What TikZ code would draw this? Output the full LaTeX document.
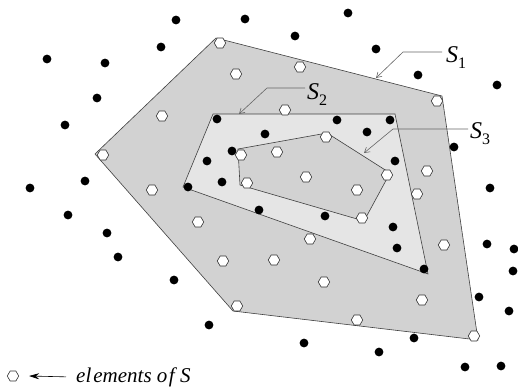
\documentclass[tikz,border=0pt]{standalone}
\usepackage{fontspec}
\setmainfont{Liberation Serif}
\usetikzlibrary{arrows.meta,shapes.geometric}
\newcommand\lowidx[1]{\raisebox{-0.28em}{\fontsize{16}{16}\selectfont\upshape #1}}
\tikzset{
  blk/.style={circle, fill=black, inner sep=0pt, minimum size=8.8pt},
  wht/.style={regular polygon, regular polygon sides=6, draw=black!80, line width=0.6pt, fill=white, inner sep=0pt, minimum size=11.5pt},
  hatchreg/.style={fill=gray!35, draw=black!75, line width=0.6pt, line join=miter},
  plainreg/.style={fill=gray!20, draw=black!75, line width=0.6pt},
  leader/.style={draw=black!60, line width=0.6pt, -{Straight Barb[length=5pt,width=6pt]}},
  lbl/.style={font=\fontsize{24}{26}\selectfont\itshape, inner sep=0pt},
}
\begin{document}
\begin{tikzpicture}[x=1pt,y=-1pt]
\useasboundingbox (0,0) rectangle (518,389);
% regions
\coordinate (a1) at (216,38);  \coordinate (a2) at (442,96);
\coordinate (a3) at (478,340); \coordinate (a4) at (233,311);
\coordinate (a5) at (95,154);
\coordinate (b1) at (213,114); \coordinate (b2) at (395,114);
\coordinate (b3) at (428,274); \coordinate (b4) at (183,187);
\coordinate (c1) at (238,149); \coordinate (c2) at (327,133);
\coordinate (c3) at (390,173); \coordinate (c4) at (364,221);
\coordinate (c5) at (240,185);
\path[hatchreg] (a1) -- (a2) -- (a3) -- (a4) -- (a5) -- cycle;
\path[plainreg] (b1) -- (b2) -- (b3) -- (b4) -- cycle;
\path[hatchreg] (c1) -- (c2) -- (c3) -- (c4) -- (c5) -- cycle;
% black points
\foreach \x/\y [count=\i] in {176/20,245/19,348/13,295/36,376/49,161/47,47/59,105/63,97/98,65/125,
  418/75,497/85,217/119,337/120,390/120,265/134,367/132,454/147,232/151,207/161,
  395/161,222/182,188/187,85/181,30/188,490/188,68/215,259/210,325/216,393/227,
  397/248,424/269,487/244,514/249,513/271,107/233,118/257,174/280,209/325,479/297,
  509/311,414/338,304/343,379/352,465/367,501/366}
  \node[blk] (p\i) at (\x,\y) {};
% white points (elements of S)
\foreach \x/\y [count=\i] in {220/43,236/74,162/116,103/155,152/190,300/67,285/110,437/101,326/137,277/152,
  241/155,247/183,306/177,387/175,427/171,357/190,417/194,362/218,198/222,310/239,
  223/261,274/260,444/245,324/282,422/300,357/320,237/306,474/336}
  \node[wht] (q\i) at (\x,\y) {};
% labels and leaders
\node[lbl, anchor=base west] (s1lbl) at (446,62) {S\lowidx{1}};
\node[lbl, anchor=base west] (s2lbl) at (307,99) {S\lowidx{2}};
\node[lbl, anchor=base west] (s3lbl) at (470,138) {S\lowidx{3}};
\coordinate (s1k) at (403,52); \coordinate (s1t) at (376,78);
\coordinate (s2k) at (267,88); \coordinate (s2t) at (239,114);
\coordinate (s3k) at (393,129); \coordinate (s3t) at (364,153);
\draw[leader] ([xshift=-4pt,yshift=10pt]s1lbl.base west) -- (s1k) -- (s1t);
\draw[leader] ([xshift=-2pt,yshift=11pt]s2lbl.base west) -- (s2k) -- (s2t);
\draw[leader] ([xshift=-2pt,yshift=9pt]s3lbl.base west) -- (s3k) -- (s3t);
% legend
\node[wht] (lg) at (13,376) {};
\node[font=\fontsize{21}{23}\selectfont\itshape, anchor=base west, inner sep=0pt] (lgt) at (76,382) {el\kern2pt ements o\kern1.5pt f S};
\draw[black, line width=0.6pt, -{Stealth[length=10pt,width=6pt]}] ([xshift=-10pt]lgt.west) -- ([xshift=10pt]lg.east);
\end{tikzpicture}
\end{document}
